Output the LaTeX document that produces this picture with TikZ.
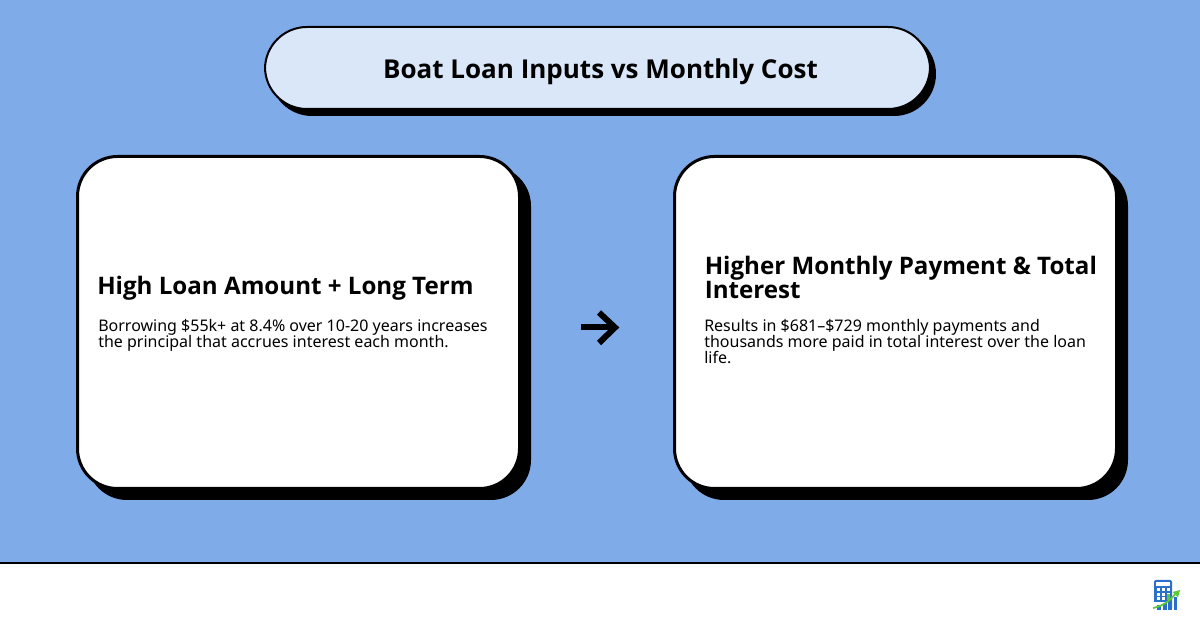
\documentclass[tikz,border=0pt]{standalone}
\usepackage{fontspec}
\setmainfont{Noto Sans}
\newfontfamily\nboldfam{Open Sans}
\newcommand{\nbold}{\nboldfam\bfseries}
\definecolor{bgblue}{HTML}{7FABE8}
\definecolor{titlefill}{HTML}{DAE7F8}
\definecolor{iconblue}{HTML}{2A6FC9}
\definecolor{icongreen}{HTML}{5CC83A}
\tikzset{
  x=0.75pt,y=-0.75pt,
  cardbox/.style={draw=black,line width=2.25pt,fill=white,rounded corners=30pt},
  cardshadow/.style={fill=black,rounded corners=30pt},
  head/.style={anchor=base west,inner sep=0,font=\nbold\fontsize{18.1}{18.1}\selectfont},
  body/.style={anchor=base west,inner sep=0,font=\fontsize{12}{12}\selectfont},
}
\begin{document}
\begin{tikzpicture}
\useasboundingbox (0,0) rectangle (1200,630);
\fill[bgblue] (0,0) rectangle (1200,563);
\fill[white] (0,563) rectangle (1200,630);
\draw[black,line width=1.5pt] (0,563) -- (1200,563);
% title
\fill[black,rounded corners=31.5pt] (270,32) rectangle (936,116);
\draw[black,line width=1.5pt,fill=titlefill,rounded corners=31.5pt] (265,27) rectangle (930,109);
\node[anchor=base,inner sep=0,font=\nbold\fontsize{19.5}{19.5}\selectfont] (title) at (600.5,78.5) {Boat Loan Inputs vs Monthly Cost};
% cards
\fill[cardshadow] (87,166) rectangle (531,500);
\draw[cardbox] (77.5,156.5) rectangle (519.5,488.5);
\fill[cardshadow] (684,166) rectangle (1128,500);
\draw[cardbox] (674.5,156.5) rectangle (1116.5,488.5);
\node[head] (h1) at (97,295) {High Loan Amount + Long Term};
\node[body] (b1a) at (98,332) {Borrowing \$55k+ at 8.4\% over 10-20 years increases};
\node[body] (b1b) at (98,348) {the principal that accrues interest each month.};
\node[head] (h2a) at (704.5,275) {Higher Monthly Payment \& Total};
\node[head] (h2b) at (704.5,299) {Interest};
\node[body] (b2a) at (704,332) {Results in \$681–\$729 monthly payments and};
\node[body] (b2b) at (704,348) {thousands more paid in total interest over the loan};
\node[body] (b2c) at (704,364) {life.};
% arrow
\coordinate (as) at (581,327.5);
\coordinate (ae) at (616,327.5);
\draw[black,line width=4.5pt] (as) -- (ae);
\draw[black,line width=4.5pt,miter limit=10] (599,312.5) -- (615,327.5) -- (599,343);
% icon
\fill[iconblue,rounded corners=1.5pt] (1154,580) rectangle (1172,610);
\fill[white] (1156,582) rectangle (1170,586.5);
\foreach \yy in {588.5,593,597.5}{
  \foreach \xx in {1156.5,1161.5,1166.5}{
    \fill[white] (\xx,\yy) rectangle +(3.2,3);
  }
}
\fill[icongreen] (1166.5,594) rectangle (1170,600.5);
\fill[white] (1154,602) rectangle (1172,610.5);
\fill[iconblue] (1157,605) rectangle (1161,610);
\fill[iconblue] (1162.5,603) rectangle (1166.5,610);
\fill[iconblue] (1168,600.5) rectangle (1172,610);
\fill[iconblue] (1173.5,597.5) rectangle (1177,610);
\draw[icongreen,line width=1.3pt] (1153,608) .. controls (1163,606) and (1170,601) .. (1176,593);
\fill[icongreen] (1180,590) -- (1172.5,592) -- (1178,597.5) -- cycle;
\end{tikzpicture}
\end{document}
